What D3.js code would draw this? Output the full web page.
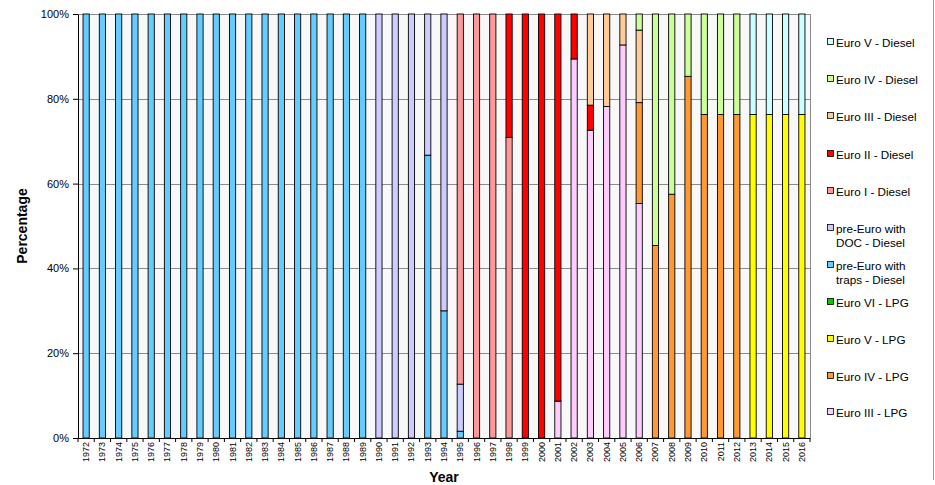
<!DOCTYPE html>
<html>
<head>
<meta charset="utf-8">
<script src="https://cdn.jsdelivr.net/npm/d3@7"></script>
<style>
  body { margin: 0; background: #fff; }
  svg { display: block; font-family: "Liberation Sans", Arial, sans-serif; }
</style>
</head>
<body>
<svg id="chart" width="935" height="485"></svg>
<script>
const years = ["1972","1973","1974","1975","1976","1977","1978","1979","1980","1981",
  "1982","1983","1984","1985","1986","1987","1988","1989","1990","1991",
  "1992","1993","1994","1995","1996","1997","1998","1999","2000","2001",
  "2002","2003","2004","2005","2006","2007","2008","2009","2010","2011",
  "2012","2013","2014","2015","2016"];

// stacked bottom -> top
const euroIIILPG = [0,0,0,0,0,0,0,0,0,0, 0,0,0,0,0,0,0,0,0,0, 0,0,0,0,0,0,0,0,0,8.7,
  89.4,72.6,78.2,92.7,55.3,0,0,0,0,0, 0,0,0,0,0];
const euroIVLPG = [0,0,0,0,0,0,0,0,0,0, 0,0,0,0,0,0,0,0,0,0, 0,0,0,0,0,0,0,0,0,0,
  0,0,0,0,23.8,45.4,57.5,85.3,76.3,76.3, 76.3,0,0,0,0];
const euroVLPG = [0,0,0,0,0,0,0,0,0,0, 0,0,0,0,0,0,0,0,0,0, 0,0,0,0,0,0,0,0,0,0,
  0,0,0,0,0,0,0,0,0,0, 0,76.3,76.3,76.3,76.3];
const euroVILPG = [0,0,0,0,0,0,0,0,0,0, 0,0,0,0,0,0,0,0,0,0, 0,0,0,0,0,0,0,0,0,0,
  0,0,0,0,0,0,0,0,0,0, 0,0,0,0,0];
const preEuroTraps = [100,100,100,100,100,100,100,100,100,100, 100,100,100,100,100,100,100,100,0,0,
  0,66.7,30,1.6,0,0,0,0,0,0, 0,0,0,0,0,0,0,0,0,0, 0,0,0,0,0];
const preEuroDOC = [0,0,0,0,0,0,0,0,0,0, 0,0,0,0,0,0,0,0,100,100,
  100,33.3,70,11.1,0,0,0,0,0,0, 0,0,0,0,0,0,0,0,0,0, 0,0,0,0,0];
const euroIDiesel = [0,0,0,0,0,0,0,0,0,0, 0,0,0,0,0,0,0,0,0,0,
  0,0,0,87.3,100,100,70.9,0,0,0, 0,0,0,0,0,0,0,0,0,0, 0,0,0,0,0];
const euroIIDiesel = [0,0,0,0,0,0,0,0,0,0, 0,0,0,0,0,0,0,0,0,0,
  0,0,0,0,0,0,29.1,100,100,91.3, 10.6,5.9,0,0,0,0,0,0,0,0, 0,0,0,0,0];
const euroIIIDiesel = [0,0,0,0,0,0,0,0,0,0, 0,0,0,0,0,0,0,0,0,0, 0,0,0,0,0,0,0,0,0,0,
  0,21.5,21.8,7.3,17.1,0,0,0,0,0, 0,0,0,0,0];
const euroIVDiesel = [0,0,0,0,0,0,0,0,0,0, 0,0,0,0,0,0,0,0,0,0, 0,0,0,0,0,0,0,0,0,0,
  0,0,0,0,3.8,54.6,42.5,14.7,23.7,23.7, 23.7,0,0,0,0];
const euroVDiesel = [0,0,0,0,0,0,0,0,0,0, 0,0,0,0,0,0,0,0,0,0, 0,0,0,0,0,0,0,0,0,0,
  0,0,0,0,0,0,0,0,0,0, 0,23.7,23.7,23.7,23.7];

const seriesNames = ["Euro III - LPG","Euro IV - LPG","Euro V - LPG","Euro VI - LPG",
  "pre-Euro with traps - Diesel","pre-Euro with DOC - Diesel","Euro I - Diesel",
  "Euro II - Diesel","Euro III - Diesel","Euro IV - Diesel","Euro V - Diesel"];
const seriesValues = [euroIIILPG, euroIVLPG, euroVLPG, euroVILPG, preEuroTraps, preEuroDOC,
  euroIDiesel, euroIIDiesel, euroIIIDiesel, euroIVDiesel, euroVDiesel];
const seriesColors = ["#ffccff","#ff9933","#ffff00","#00cc00","#66ccff","#ccccff",
  "#ff9999","#ff0000","#ffcc99","#ccff99","#ccffff"];
const legendLines = [["Euro III - LPG"],["Euro IV - LPG"],["Euro V - LPG"],["Euro VI - LPG"],
  ["pre-Euro with","traps - Diesel"],["pre-Euro with","DOC - Diesel"],["Euro I - Diesel"],
  ["Euro II - Diesel"],["Euro III - Diesel"],["Euro IV - Diesel"],["Euro V - Diesel"]];
const yTicks = [0,20,40,60,80,100];

const svg = d3.select("#chart");
const L = 78, R = 810, T = 14, B = 438;

const x = d3.scaleBand().domain(years).range([L, R]).paddingInner(0).paddingOuter(0);
const y = d3.scaleLinear().domain([0, 100]).range([B, T]);

// plot background
svg.append("rect").attr("x", L).attr("y", T).attr("width", R - L).attr("height", B - T)
  .attr("fill", "#f8f8f8");

// gridlines
svg.append("g").selectAll("line").data(yTicks.filter(d => d > 0)).join("line")
  .attr("x1", L).attr("x2", R)
  .attr("y1", d => Math.round(y(d)) + 0.5).attr("y2", d => Math.round(y(d)) + 0.5)
  .attr("stroke", "#8c8c8c").attr("stroke-width", 1);
// right border of plot
svg.append("line").attr("x1", R + 0.5).attr("x2", R + 0.5).attr("y1", T).attr("y2", B)
  .attr("stroke", "#8c8c8c");

// data table for stack
const table = years.map((yr, i) => {
  const row = { year: yr };
  seriesNames.forEach((n, k) => row[n] = seriesValues[k][i]);
  return row;
});
const stacked = d3.stack().keys(seriesNames)(table);

const barW = 6.2;
const gBars = svg.append("g");
stacked.forEach((layer, k) => {
  gBars.append("g").selectAll("rect")
    .data(layer.filter(d => d[1] - d[0] > 0))
    .join("rect")
    .attr("x", d => x(d.data.year) + x.bandwidth() / 2 - barW / 2)
    .attr("y", d => y(d[1]))
    .attr("width", barW)
    .attr("height", d => y(d[0]) - y(d[1]))
    .attr("fill", seriesColors[k])
    .attr("stroke", "#000")
    .attr("stroke-width", 0.9);
});

// Y axis
const yAxis = d3.axisLeft(y).tickValues(yTicks).tickFormat(d => d + "%").tickSize(5).tickSizeOuter(0);
const gy = svg.append("g").attr("transform", `translate(${L},0)`).call(yAxis);
gy.select(".domain").attr("stroke", "#000");
gy.selectAll(".tick line").attr("stroke", "#000");
gy.selectAll(".tick text").attr("font-size", "11px").attr("fill", "#000")
  .attr("font-family", "Liberation Sans, Arial, sans-serif").attr("x", -9);

// X axis
const xAxis = d3.axisBottom(x).tickSize(0).tickSizeOuter(0);
const gx = svg.append("g").attr("transform", `translate(0,${B})`).call(xAxis);
gx.select(".domain").attr("stroke", "#000");
gx.selectAll(".tick text")
  .attr("font-size", "9px").attr("fill", "#000")
  .attr("font-family", "Liberation Sans, Arial, sans-serif")
  .attr("transform", "rotate(-90)")
  .attr("text-anchor", "end")
  .attr("x", -4).attr("y", 0).attr("dy", "0.33em");
// boundary ticks between categories
svg.append("g").selectAll("line").data(years.concat(["__end"])).join("line")
  .attr("x1", (d, i) => L + i * x.step()).attr("x2", (d, i) => L + i * x.step())
  .attr("y1", B).attr("y2", B + 4).attr("stroke", "#000");

// axis titles
svg.append("text").attr("x", 444).attr("y", 482).attr("text-anchor", "middle")
  .attr("font-size", "14px").attr("font-weight", "bold").text("Year");
svg.append("text").attr("transform", "translate(27,226) rotate(-90)")
  .attr("text-anchor", "middle").attr("font-size", "14px").attr("font-weight", "bold")
  .text("Percentage");

// outer right border line
svg.append("line").attr("x1", 933.5).attr("x2", 933.5).attr("y1", 0).attr("y2", 480)
  .attr("stroke", "#999");

// legend (top to bottom = reversed stack order)
const legendY = [413, 377, 340, 303, 266, 229, 192, 155, 117, 80, 43];
const gL = svg.append("g");
seriesNames.forEach((n, k) => {
  const cy = legendY[k];
  gL.append("rect").attr("x", 827.5).attr("y", cy - 4.5).attr("width", 6).attr("height", 6)
    .attr("fill", seriesColors[k]).attr("stroke", "#000").attr("stroke-width", 0.8);
  const t = gL.append("text").attr("x", 836).attr("y", cy + 4).attr("font-size", "11.7px").attr("fill", "#000");
  legendLines[k].forEach((ln, j) => {
    t.append("tspan").attr("x", 836).attr("dy", j === 0 ? 0 : 14).text(ln);
  });
});
</script>
</body>
</html>
